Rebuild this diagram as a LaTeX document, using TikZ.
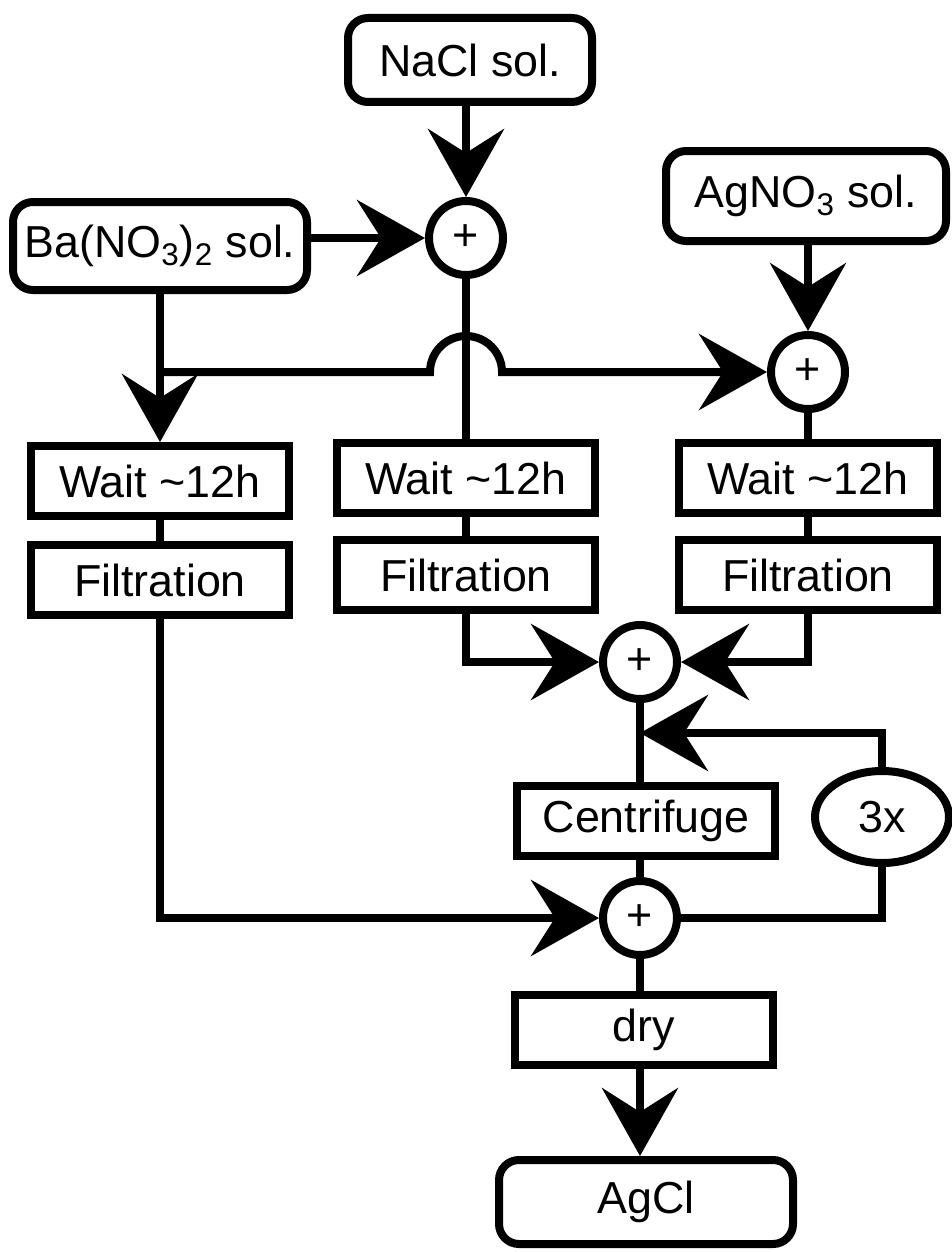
\documentclass[tikz,border=0pt]{standalone}
\usepackage{fontspec}
\setmainfont{Liberation Sans}
\usetikzlibrary{arrows.meta,shapes.geometric}

\begin{document}
\begin{tikzpicture}[x=0.5pt,y=-0.5pt,line width=4pt,
	font=\fontsize{22.4}{26}\selectfont,
	>={Stealth[length=34pt,width=38pt,inset=12pt]},
	sol/.style={draw,rounded corners=10pt,inner sep=0pt},
	proc/.style={draw,minimum width=129pt,minimum height=35pt,inner sep=0pt},
	plus/.style={draw,circle,minimum size=37pt,inner sep=0pt},
	times/.style={draw,ellipse,minimum width=67pt,minimum height=46pt,inner sep=0pt}]
	\useasboundingbox (0,0) rectangle (952,1252);
	%Dung dich ban dau:
	\node[sol,minimum width=122pt,minimum height=42pt] (nacl) at (470,60) {NaCl sol.};
	\node[sol,minimum width=147pt,minimum height=44pt] (ba) at (160,246) {Ba(NO\textsubscript{3})\textsubscript{2} sol.};
	\node[sol,minimum width=140pt,minimum height=45pt] (agno3) at (806,196) {AgNO\textsubscript{3} sol.};
	\node[plus] (c1) at (466,238) {+};
	\node[plus] (c2) at (808,372) {+};
	%Ba cot xu ly:
	\node[proc] (w1) at (160,481) {Wait \textasciitilde12h};
	\node[proc] (f1) at (160,580) {Filtration};
	\node[proc] (w2) at (466,478) {Wait \textasciitilde12h};
	\node[proc] (f2) at (466,575) {Filtration};
	\node[proc] (w3) at (808,478) {Wait \textasciitilde12h};
	\node[proc] (f3) at (808,575) {Filtration};
	\node[plus] (c3) at (640,662) {+};
	\node[proc] (cen) at (646,821) {Centrifuge};
	\node[times] (three) at (882,817) {3x};
	\node[plus] (c4) at (640,918) {+};
	\node[proc] (dry) at (644,1030) {dry};
	\node[sol,minimum width=147pt,minimum height=42pt] (agcl) at (646,1202) {AgCl};
	\path (ba.south |- c2) coordinate (j1)
	(c1 |- c2) coordinate (hop)
	(640,733) coordinate (back);
	%Duong noi:
	\draw[->] (nacl.south -| c1) -- (c1.north);
	\draw[->] (ba.east |- c1) -- (c1.west);
	\draw[->] (agno3.south -| c2) -- (c2.north);
	\draw[->] (ba.south) -- (w1.north);
	\draw[->] (j1) -- ([xshift=-18pt]hop) arc[start angle=180,end angle=0,radius=18pt] -- (c2.west);
	\draw (c1.south) -- (w2.north) (c2.south) -- (w3.north);
	\draw (w1) -- (f1) (w2) -- (f2) (w3) -- (f3);
	\draw[->] (f2.south) |- (c3.west);
	\draw[->] (f3.south) |- (c3.east);
	\draw (c3.south) -- (c3.south |- cen.north);
	\draw[->] (three.north) |- (back);
	\draw (cen.south -| c4) -- (c4.north);
	\draw (c4.east) -| (three.south);
	\draw[->] (f1.south) |- (c4.west);
	\draw (c4.south) -- (c4.south |- dry.north);
	\draw[->] (dry.south -| c4) -- (agcl.north -| c4);
\end{tikzpicture}
\end{document}
